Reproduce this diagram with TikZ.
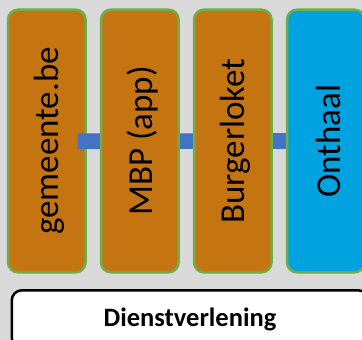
\documentclass[tikz,border=0pt]{standalone}
\usepackage{fontspec}
\setmainfont{Carlito}
\definecolor{bggray}{HTML}{D9D9D9}
\definecolor{boxorange}{HTML}{C57412}
\definecolor{boxcyan}{HTML}{00A3E0}
\definecolor{boxgreen}{HTML}{70AD47}
\definecolor{connblue}{HTML}{4472C4}
\pgfdeclarelayer{bg}
\pgfdeclarelayer{mid}
\pgfsetlayers{bg,mid,main}
\newcommand{\lanetext}[1]{\rotatebox{90}{\raisebox{-3pt}[\height][\depth]{#1}}}
\begin{document}
\begin{tikzpicture}[x=1pt,y=-1pt,
  lane/.style={draw=boxgreen, line width=2.5pt, rounded corners=10pt,
    minimum width=77.6pt, minimum height=262.6pt, inner sep=0pt,
    font=\fontsize{35}{40}\selectfont},
  orangelane/.style={lane, fill=boxorange},
  cyanlane/.style={lane, fill=boxcyan},
  conn/.style={draw=connblue, line width=15.7pt},
  basebox/.style={draw=black, line width=2.5pt, rounded corners=10pt, fill=white,
    minimum width=356.4pt, minimum height=57.4pt, inner sep=0pt,
    font=\fontsize{26.5}{30}\selectfont\bfseries}]
\useasboundingbox (0,0) rectangle (362,340);
\clip (0,0) rectangle (362,340);
\begin{pgfonlayer}{bg}
  \fill[bggray] (0,0) rectangle (362,340);
  \node[orangelane] (b1) at (46.8,141) {\lanetext{gemeente.be}};
\end{pgfonlayer}
\node[orangelane] (b2) at (139.8,141) {\lanetext{MBP (app)}};
\node[orangelane] (b3) at (232.8,141) {\lanetext{Burgerloket}};
\node[cyanlane] (b4) at (325.8,141) {\lanetext{Onthaal}};
\begin{pgfonlayer}{mid}
  \coordinate (cs) at (77.7,141.2);
  \draw[conn] (cs) -- (b4.center);
\end{pgfonlayer}
\node[basebox] (dv) at (190,319) {Dienstverlening};
\end{tikzpicture}
\end{document}
